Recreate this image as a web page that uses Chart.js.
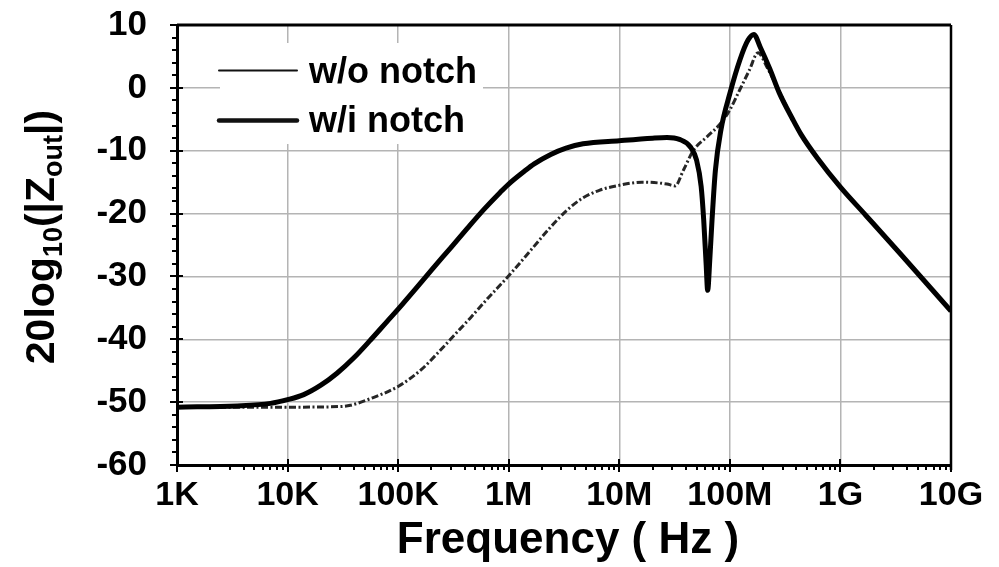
<!DOCTYPE html>
<html>
<head>
<meta charset="utf-8">
<title>Output impedance</title>
<script src="https://cdn.jsdelivr.net/npm/chart.js@4.4.1/dist/chart.umd.min.js"></script>
<style>
    html, body { margin: 0; padding: 0; background: #fff; }
    #wrap { width: 999px; height: 567px; }
</style>
</head>
<body>
<div id="wrap"><canvas id="zoutChart" width="999" height="567"></canvas></div>
<script>
// Output impedance magnitude vs. frequency, with and without the notch

const FONT = "'Liberation Sans', Arial, sans-serif";

// w/i notch (thick solid)
const freqNotch = [1e3, 3.5e3, 7e3, 1e4, 1.4e4, 2e4, 2.8e4, 4e4, 5.5e4, 8e4,
    1e5, 1.4e5, 2e5, 3e5, 4.2e5, 6e5, 8.4e5, 1e6, 1.4e6, 1.7e6,
    2.4e6, 3.3e6, 4.7e6, 1e7, 2e7, 2.7e7, 3.5e7, 4.4e7, 5e7, 5.5e7,
    5.8e7, 6.1e7, 6.3e7, 6.6e7, 6.9e7, 7.4e7, 8.3e7, 1e8, 1.23e8, 1.46e8,
    1.65e8, 1.88e8, 2.3e8, 2.8e8, 3.7e8, 4.4e8, 6.2e8, 1e9, 1.7e9, 3.4e9,
    1e10];
const dbNotch = [-50.8, -50.6, -50.2, -49.6, -48.8, -47.3, -45.4, -42.9, -40.3, -37.1,
    -35.2, -32.2, -29.0, -25.4, -22.4, -19.3, -16.6, -15.3, -13.2, -12.1,
    -10.6, -9.6, -8.9, -8.4, -8.0, -7.9, -8.2, -9.4, -11.5, -15.7,
    -21.0, -28.0, -32.2, -27.0, -21.0, -13.1, -6.7, -0.9, 4.4, 7.6,
    8.5, 6.5, 3.0, -0.8, -5.0, -7.4, -11.2, -15.8, -20.3, -26.2,
    -35.5];

// w/o notch (thin dash-dot)
const freqNoNotch = [1e3, 1e4, 3e4, 3.7e4, 5.5e4, 1e5, 1.6e5, 2.25e5, 3.2e5, 4.5e5,
    6.3e5, 1e6, 1.66e6, 2.35e6, 3.3e6, 4.7e6, 6.6e6, 1e7, 1.6e7, 2.7e7,
    3.2e7, 3.8e7, 4.7e7, 6.2e7, 8.3e7, 1e8, 1.23e8, 1.5e8, 1.8e8, 2.15e8,
    2.8e8, 3.7e8, 4.4e8, 6.2e8, 1e9, 1.7e9, 3.4e9, 1e10];
const dbNoNotch = [-50.8, -50.8, -50.7, -50.5, -49.5, -47.5, -44.9, -42.3, -39.4, -36.6,
    -33.7, -29.9, -25.4, -22.3, -19.6, -17.5, -16.3, -15.5, -15.0, -15.3,
    -15.6, -13.1, -9.9, -7.8, -5.6, -3.5, -0.3, 2.8, 5.6, 3.4,
    -0.6, -4.9, -7.3, -11.2, -15.8, -20.3, -26.2, -35.5];

const freqTicks = [1e3, 1e4, 1e5, 1e6, 1e7, 1e8, 1e9, 1e10];
const freqTickLabels = ['1K', '10K', '100K', '1M', '10M', '100M', '1G', '10G'];
const dbMin = -60, dbMax = 10, dbStep = 10, dbMinorStep = 2;

const seriesNames = ['w/o notch', 'w/i notch'];

function toPoints(xs, ys) {
    return xs.map((x, i) => ({ x: x, y: ys[i] }));
}

// axis tick marks (major across the axis, minor outside) and top/right frame
const frameTicks = {
    id: 'frameTicks',
    afterDraw(chart) {
        const ctx = chart.ctx;
        const a = chart.chartArea;
        const xs = chart.scales.x;
        const ys = chart.scales.y;
        ctx.save();
        ctx.strokeStyle = '#000';

        ctx.lineWidth = 2;
        for (let d = 0; d < freqTicks.length - 1; d++) {
            for (let k = 2; k <= 9; k++) {
                const px = Math.round(xs.getPixelForValue(freqTicks[d] * k));
                ctx.beginPath();
                ctx.moveTo(px, a.bottom);
                ctx.lineTo(px, a.bottom + 5);
                ctx.stroke();
            }
        }
        freqTicks.forEach(f => {
            const px = Math.round(xs.getPixelForValue(f));
            ctx.beginPath();
            ctx.moveTo(px, a.bottom - 6);
            ctx.lineTo(px, a.bottom + 7);
            ctx.stroke();
        });

        for (let v = dbMin; v <= dbMax; v += dbMinorStep) {
            const py = Math.round(ys.getPixelForValue(v));
            const major = v % dbStep === 0;
            ctx.beginPath();
            ctx.moveTo(a.left - (major ? 7 : 5), py);
            ctx.lineTo(a.left + (major ? 6 : 0), py);
            ctx.stroke();
        }

        ctx.lineWidth = 3;
        ctx.beginPath();
        ctx.moveTo(a.left, a.top);
        ctx.lineTo(a.right, a.top);
        ctx.stroke();
        ctx.lineWidth = 2.5;
        ctx.beginPath();
        ctx.moveTo(a.right, a.top);
        ctx.lineTo(a.right, a.bottom + 5);
        ctx.stroke();
        ctx.restore();
    }
};

// legend box sitting inside the plot, upper left
const insideLegend = {
    id: 'insideLegend',
    afterDraw(chart) {
        const ctx = chart.ctx;
        ctx.save();
        ctx.fillStyle = '#fff';
        ctx.fillRect(220, 43, 263, 101);

        ctx.strokeStyle = '#111';
        ctx.lineCap = 'round';
        ctx.lineWidth = 2;
        ctx.beginPath();
        ctx.moveTo(219, 70.5);
        ctx.lineTo(297, 70.5);
        ctx.stroke();
        ctx.lineWidth = 4.5;
        ctx.beginPath();
        ctx.moveTo(219, 120.5);
        ctx.lineTo(297, 120.5);
        ctx.stroke();

        ctx.fillStyle = '#000';
        ctx.font = 'bold 36px ' + FONT;
        ctx.textAlign = 'left';
        ctx.textBaseline = 'alphabetic';
        ctx.fillText(seriesNames[0], 309, 83);
        ctx.fillText(seriesNames[1], 309, 132);
        ctx.restore();
    }
};

// axis titles; the y title needs subscripts so it is drawn by hand
const axisTitles = {
    id: 'axisTitles',
    afterDraw(chart) {
        const ctx = chart.ctx;
        const a = chart.chartArea;
        ctx.save();
        ctx.fillStyle = '#000';
        ctx.textBaseline = 'alphabetic';

        ctx.font = 'bold 44px ' + FONT;
        ctx.textAlign = 'center';
        ctx.fillText('Frequency ( Hz )', (a.left + a.right) / 2 + 4, 553);

        const parts = [
            { t: '20log', s: 41, dy: 0 },
            { t: '10', s: 27, dy: 8 },
            { t: '(|Z', s: 41, dy: 0 },
            { t: 'out', s: 27, dy: 8 },
            { t: '|)', s: 41, dy: 0 }
        ];
        let total = 0;
        parts.forEach(p => {
            ctx.font = 'bold ' + p.s + 'px ' + FONT;
            p.w = ctx.measureText(p.t).width;
            total += p.w;
        });
        ctx.translate(54, 237);
        ctx.rotate(-Math.PI / 2);
        ctx.textAlign = 'left';
        let x = -total / 2;
        parts.forEach(p => {
            ctx.font = 'bold ' + p.s + 'px ' + FONT;
            ctx.fillText(p.t, x, p.dy);
            x += p.w;
        });
        ctx.restore();
    }
};

const ctx = document.getElementById('zoutChart');
new Chart(ctx, {
    type: 'line',
    data: {
        datasets: [
            {
                label: seriesNames[0],
                data: toPoints(freqNoNotch, dbNoNotch),
                borderColor: '#262626',
                borderWidth: 3,
                borderDash: [7, 2.5, 2, 2.5],
                pointRadius: 0,
                cubicInterpolationMode: 'monotone',
                order: 1
            },
            {
                label: seriesNames[1],
                data: toPoints(freqNotch, dbNotch),
                borderColor: '#000',
                borderWidth: 5,
                pointRadius: 0,
                cubicInterpolationMode: 'monotone',
                order: 0
            }
        ]
    },
    options: {
        responsive: false,
        animation: false,
        devicePixelRatio: 1,
        layout: { padding: { top: 25, right: 48, bottom: 0, left: 0 } },
        plugins: {
            legend: { display: false },
            tooltip: { enabled: false }
        },
        scales: {
            x: {
                type: 'logarithmic',
                min: freqTicks[0],
                max: freqTicks[freqTicks.length - 1],
                afterBuildTicks: function(scale) {
                    scale.ticks = freqTicks.map(v => ({ value: v }));
                },
                afterFit: function(scale) {
                    scale.height = 102;
                    scale.paddingLeft = 0;
                    scale.paddingRight = 0;
                },
                grid: { color: '#b4b4b4', lineWidth: 1.5, drawTicks: false },
                border: { color: '#000', width: 3 },
                ticks: {
                    autoSkip: false,
                    maxRotation: 0,
                    padding: 10,
                    color: '#000',
                    font: { family: FONT, size: 34, weight: 'bold' },
                    callback: function(value) {
                        const i = freqTicks.indexOf(value);
                        return i >= 0 ? freqTickLabels[i] : '';
                    }
                }
            },
            y: {
                min: dbMin,
                max: dbMax,
                afterFit: function(scale) {
                    scale.width = 177;
                    scale.paddingTop = 0;
                    scale.paddingBottom = 0;
                },
                grid: { color: '#b4b4b4', lineWidth: 1.5, drawTicks: false },
                border: { color: '#000', width: 3 },
                ticks: {
                    stepSize: dbStep,
                    padding: 30,
                    color: '#000',
                    font: { family: FONT, size: 35, weight: 'bold' }
                }
            }
        }
    },
    plugins: [frameTicks, insideLegend, axisTitles]
});
</script>
</body>
</html>
